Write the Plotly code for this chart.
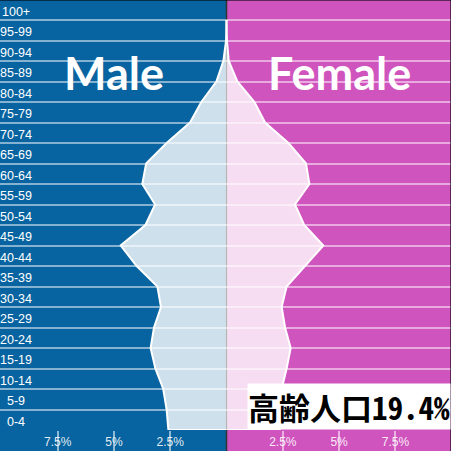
import plotly.graph_objects as go

# Age groups (bottom to top) and share of population (%)
ages = ["0-4", "5-9", "10-14", "15-19", "20-24", "25-29", "30-34", "35-39",
        "40-44", "45-49", "50-54", "55-59", "60-64", "65-69", "70-74",
        "75-79", "80-84", "85-89", "90-94", "95-99", "100+"]
male = [2.58, 2.66, 2.81, 3.16, 3.37, 3.22, 2.91, 3.07, 3.99, 4.70, 3.60,
        3.17, 3.74, 3.57, 2.66, 1.62, 1.12, 0.45, 0.14, 0.02, 0.0]
female = [2.38, 2.40, 2.45, 2.67, 2.85, 2.60, 2.45, 2.67, 3.49, 4.30, 3.45,
          3.04, 3.68, 3.53, 2.75, 1.71, 1.24, 0.48, 0.10, 0.02, 0.0]
tick_vals = [-7.5, -5, -2.5, 2.5, 5, 7.5]
tick_text = ["7.5%", "5%", "2.5%", "2.5%", "5%", "7.5%"]
note = "高齢人口19.4%"

blue = "#0864a0"
pink = "#d054be"
pos = list(range(len(ages)))

fig = go.Figure()

# Male side (negative x), closed back to the centre line
fig.add_trace(go.Scatter(
    x=[0] + [-v for v in male] + [0],
    y=[0] + pos + [pos[-1]],
    mode="lines", fill="toself",
    fillcolor="rgba(255,255,255,0.8)",
    line=dict(color="white", width=2),
    hoverinfo="skip", showlegend=False
))

# Female side
fig.add_trace(go.Scatter(
    x=[0] + female + [0],
    y=[0] + pos + [pos[-1]],
    mode="lines", fill="toself",
    fillcolor="rgba(255,255,255,0.8)",
    line=dict(color="white", width=2),
    hoverinfo="skip", showlegend=False
))

center = 10.06 / (10.06 + 9.97)

shapes = [
    # pink half of the background
    dict(type="rect", xref="paper", yref="paper", x0=center, x1=1.2, y0=-0.2, y1=1.2,
         fillcolor=pink, line=dict(width=0), layer="below"),
    # centre divider
    dict(type="line", xref="paper", yref="paper", x0=center, x1=center, y0=-0.1, y1=1,
         line=dict(color="#333333", width=1.5), layer="below"),
    # frame
    dict(type="line", xref="paper", yref="paper", x0=0, x1=1, y0=1, y1=1,
         line=dict(color="rgba(0,0,0,0.55)", width=2)),
    dict(type="line", xref="paper", yref="paper", x0=1, x1=1, y0=-0.1, y1=1,
         line=dict(color="rgba(0,0,0,0.55)", width=2)),
]

annotations = []
for i, a in enumerate(ages):
    annotations.append(dict(
        x=16 / 451, xref="paper", y=i + 0.4, yref="y", text=a,
        showarrow=False, xanchor="center", yanchor="middle",
        font=dict(family="Liberation Sans, Arial", size=12.5, color="white")
    ))

for label, xv in [("Male", -5), ("Female", 5)]:
    annotations.append(dict(
        x=xv, y=17.4, xref="x", yref="y", text=label,
        showarrow=False, xanchor="center", yanchor="middle",
        font=dict(family="Lato", size=45, color="white", weight=700)
    ))

annotations.append(dict(
    x=1, y=0, xref="paper", yref="paper", text="<b>" + note + "</b>",
    showarrow=False, xanchor="right", yanchor="bottom",
    bgcolor="white", borderpad=0,
    font=dict(family="Noto Sans Mono CJK JP, Noto Sans CJK JP", size=31, color="black")
))

fig.update_layout(
    width=451, height=451,
    margin=dict(l=0, r=0, t=0, b=21),
    paper_bgcolor=blue,
    plot_bgcolor="rgba(0,0,0,0)",
    shapes=shapes,
    annotations=annotations,
    xaxis=dict(
        range=[-10.06, 9.97], tickvals=tick_vals, ticktext=tick_text,
        showgrid=False, zeroline=False, ticks="outside", ticklen=20,
        tickcolor="rgba(255,255,255,0.55)", tickwidth=1.5,
        ticklabelstandoff=-19,
        tickfont=dict(family="Liberation Sans, Arial", size=12, color="rgba(255,255,255,0.9)"),
        fixedrange=True
    ),
    yaxis=dict(
        range=[0, 20.976], showticklabels=False, zeroline=False,
        tickvals=pos, showgrid=True,
        gridcolor="rgba(255,255,255,0.5)", gridwidth=2,
        fixedrange=True
    ),
)

fig.write_html("out.html", config={"displayModeBar": False},
               post_script="document.body.style.margin='0px';")
